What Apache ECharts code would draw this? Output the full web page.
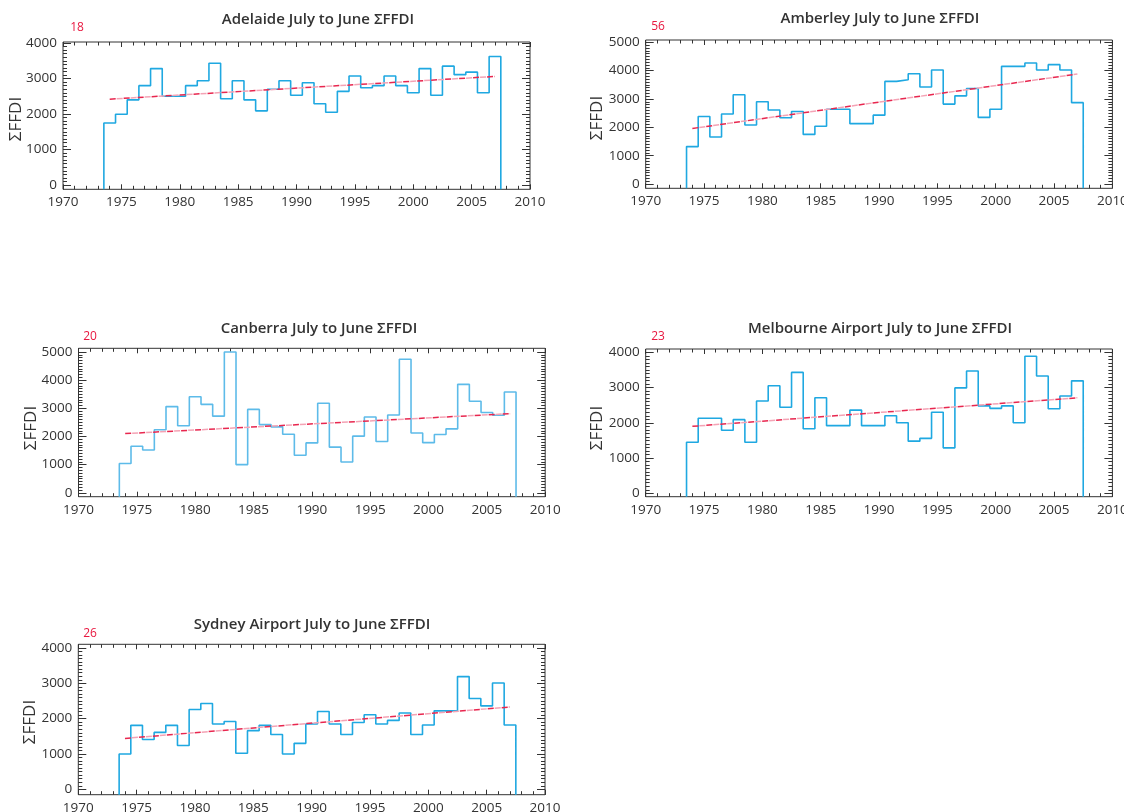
<!DOCTYPE html>
<html>
<head>
<meta charset="utf-8">
<script src="https://cdn.jsdelivr.net/npm/echarts@6/dist/echarts.min.js"></script>
<style>
html,body{margin:0;padding:0;background:#fff;}
#chart{width:1124px;height:812px;}
</style>
</head>
<body>
<div id="chart"></div>
<script>
// ---------- DATA ----------
const years = [1974,1975,1976,1977,1978,1979,1980,1981,1982,1983,1984,1985,1986,1987,1988,1989,1990,
               1991,1992,1993,1994,1995,1996,1997,1998,1999,2000,2001,2002,2003,2004,2005,2006,2007];

const adelaideValues  = [1750,1995,2400,2800,3280,2500,2500,2800,2940,3430,2430,2940,2400,2090,2700,2940,2530,
                         2880,2290,2050,2640,3070,2740,2800,3070,2800,2600,3280,2530,3350,3110,3180,2600,3620];
const amberleyValues  = [1320,2380,1660,2470,3150,2080,2900,2610,2340,2560,1750,2040,2640,2640,2130,2130,2430,
                         3620,3680,3890,3420,4020,2820,3110,3370,2350,2640,4150,4150,4270,4020,4210,4020,2870];
const canberraValues  = [1040,1650,1520,2240,3060,2380,3410,3140,2720,5000,1000,2960,2420,2340,2080,1330,1770,
                         3180,1620,1090,2010,2690,1820,2760,4740,2120,1780,2070,2270,3850,3250,2850,2750,3580];
const melbourneValues = [1450,2130,2130,1790,2090,1450,2620,3050,2440,3430,1830,2710,1920,1920,2360,1920,1920,
                         2200,2000,1480,1560,2300,1290,2990,3470,2480,2410,2480,2000,3890,3330,2400,2760,3190];
const sydneyValues    = [1000,1810,1410,1610,1810,1240,2260,2430,1850,1920,1020,1660,1810,1550,1000,1300,1850,
                         2200,1850,1550,1890,2110,1850,1950,2160,1550,1820,2220,2220,3190,2570,2360,3010,1820];

const trendYears     = [1974, 2007];
const adelaideTrend  = [2420, 3060];
const amberleyTrend  = [1960, 3880];
const canberraTrend  = [2100, 2810];
const melbourneTrend = [1900, 2710];
const sydneyTrend    = [1440, 2330];

const xTickLabels = [1970,1975,1980,1985,1990,1995,2000,2005,2010];
const yTicks4000  = [0,1000,2000,3000,4000];
const yTicks5000  = [0,1000,2000,3000,4000,5000];

const stationNames = ['Adelaide','Amberley','Canberra','Melbourne Airport','Sydney Airport'];
const stationCounts = ['18','56','20','23','26'];

// ---------- LAYOUT / STYLE ----------
const panels = [
  {vals: adelaideValues,  trend: adelaideTrend,  yt: yTicks4000, left: 63,   top: 42,    w: 467, h: 147.3, yMin: -120, yMax: 4030, color:'#1fa8e1',
   title:[318,20], num:[77,28], yl:[16,119]},
  {vals: amberleyValues,  trend: amberleyTrend,  yt: yTicks5000, left: 645.7, top: 40,   w: 466.7, h: 148.3, yMin: -150, yMax: 5080, color:'#1fa8e1',
   title:[880,19], num:[658,27], yl:[597,118]},
  {vals: canberraValues,  trend: canberraTrend,  yt: yTicks5000, left: 78.5, top: 348.3, w: 466.7, h: 148.4, yMin: -140, yMax: 5130, color:'#5dbbe9',
   title:[319,329], num:[90,337], yl:[31,428]},
  {vals: melbourneValues, trend: melbourneTrend, yt: yTicks4000, left: 645.7, top: 349,  w: 466.7, h: 147.7, yMin: -96,  yMax: 4094, color:'#1fa8e1',
   title:[880,329], num:[658,337], yl:[597,428]},
  {vals: sydneyValues,    trend: sydneyTrend,    yt: yTicks4000, left: 78.3, top: 644.3, w: 466.7, h: 150.4, yMin: -153, yMax: 4104, color:'#1fa8e1',
   title:[312,625], num:[90,634], yl:[30,722]}
];

const FONT = '"Open Sans", "Liberation Sans", sans-serif';
const TICK = {color:'#333', width:1};
const plain = v => String(v);
const minorYears = [];
for (let y = 1970; y <= 2010; y++) minorYears.push(y);

const grids = [], xAxes = [], yAxes = [], series = [], graphics = [];

panels.forEach((p, i) => {
  grids.push({left: p.left, top: p.top, width: p.w, height: p.h, show: true,
              borderColor: '#333', borderWidth: 1, backgroundColor: 'transparent', containLabel: false, outerBoundsMode: 'none'});
  const yMinor = [];
  for (let v = 0; v <= p.yt[p.yt.length-1]; v += 100) yMinor.push(v);

  const xBase = {gridIndex: i, type: 'value', min: 1970, max: 2010, axisLine: {show: false, onZero: false}, splitLine: {show: false}};
  xAxes.push(Object.assign({}, xBase, {position: 'bottom',
    axisTick: {show: true, inside: true, length: 5, customValues: xTickLabels, lineStyle: TICK},
    axisLabel: {show: true, customValues: xTickLabels, formatter: plain, margin: 6, color: '#333', fontSize: 13.5, fontFamily: FONT}}));
  xAxes.push(Object.assign({}, xBase, {position: 'bottom',
    axisTick: {show: true, inside: true, length: 3.5, customValues: minorYears, lineStyle: TICK}, axisLabel: {show: false}}));
  xAxes.push(Object.assign({}, xBase, {position: 'top',
    axisTick: {show: true, inside: true, length: 5, customValues: xTickLabels, lineStyle: TICK}, axisLabel: {show: false}}));
  xAxes.push(Object.assign({}, xBase, {position: 'top',
    axisTick: {show: true, inside: true, length: 3.5, customValues: minorYears, lineStyle: TICK}, axisLabel: {show: false}}));

  const yBase = {gridIndex: i, type: 'value', min: p.yMin, max: p.yMax, axisLine: {show: false, onZero: false}, splitLine: {show: false}};
  yAxes.push(Object.assign({}, yBase, {position: 'left',
    axisTick: {show: true, inside: true, length: 8, customValues: p.yt, lineStyle: TICK},
    axisLabel: {show: true, customValues: p.yt, formatter: plain, margin: 6, color: '#333', fontSize: 13.5, fontFamily: FONT}}));
  yAxes.push(Object.assign({}, yBase, {position: 'left',
    axisTick: {show: true, inside: true, length: 4, customValues: yMinor, lineStyle: TICK}, axisLabel: {show: false}}));
  yAxes.push(Object.assign({}, yBase, {position: 'right',
    axisTick: {show: true, inside: true, length: 8, customValues: p.yt, lineStyle: TICK}, axisLabel: {show: false}}));
  yAxes.push(Object.assign({}, yBase, {position: 'right',
    axisTick: {show: true, inside: true, length: 4, customValues: yMinor, lineStyle: TICK}, axisLabel: {show: false}}));

  // step outline built from the year values (each year spans year-0.5 .. year+0.5)
  const pts = [[years[0] - 0.5, p.yMin]];
  years.forEach((yr, k) => {
    pts.push([yr - 0.5, p.vals[k]]);
    pts.push([yr + 0.5, p.vals[k]]);
  });
  pts.push([years[years.length-1] + 0.5, p.yMin]);

  series.push({type: 'line', xAxisIndex: 4*i, yAxisIndex: 4*i, data: pts, symbol: 'none', silent: true,
               lineStyle: {color: p.color, width: 1.6}, z: 2});
  const tdata = trendYears.map((yr, k) => [yr, p.trend[k]]);
  series.push({type: 'line', xAxisIndex: 4*i, yAxisIndex: 4*i, data: tdata, symbol: 'none', silent: true,
               lineStyle: {color: '#f4a3b5', width: 1.5, type: [6, 8], dashOffset: 7}, z: 3});
  series.push({type: 'line', xAxisIndex: 4*i, yAxisIndex: 4*i, data: tdata, symbol: 'none', silent: true,
               lineStyle: {color: '#e8274f', width: 1.5, type: [6, 8]}, z: 4});

  graphics.push({type: 'text', x: p.title[0], y: p.title[1], silent: true,
    style: {text: stationNames[i] + ' July to June \u03A3FFDI', font: '600 15px ' + FONT, fill: '#333',
            textAlign: 'center', textVerticalAlign: 'middle', align: 'center', verticalAlign: 'middle'}});
  graphics.push({type: 'text', x: p.num[0], y: p.num[1], silent: true,
    style: {text: stationCounts[i], font: '12px ' + FONT, fill: '#e8173f',
            textAlign: 'center', textVerticalAlign: 'middle', align: 'center', verticalAlign: 'middle'}});
  graphics.push({type: 'text', x: p.yl[0], y: p.yl[1], rotation: Math.PI/2, silent: true,
    style: {text: '\u03A3FFDI', font: '17px ' + FONT, fill: '#333',
            textAlign: 'center', textVerticalAlign: 'middle', align: 'center', verticalAlign: 'middle'}});
});

const chart = echarts.init(document.getElementById('chart'), null, {renderer: 'canvas'});
chart.setOption({
  animation: false,
  backgroundColor: '#fff',
  grid: grids, xAxis: xAxes, yAxis: yAxes, series: series,
  graphic: {elements: graphics}
});
</script>
</body>
</html>
